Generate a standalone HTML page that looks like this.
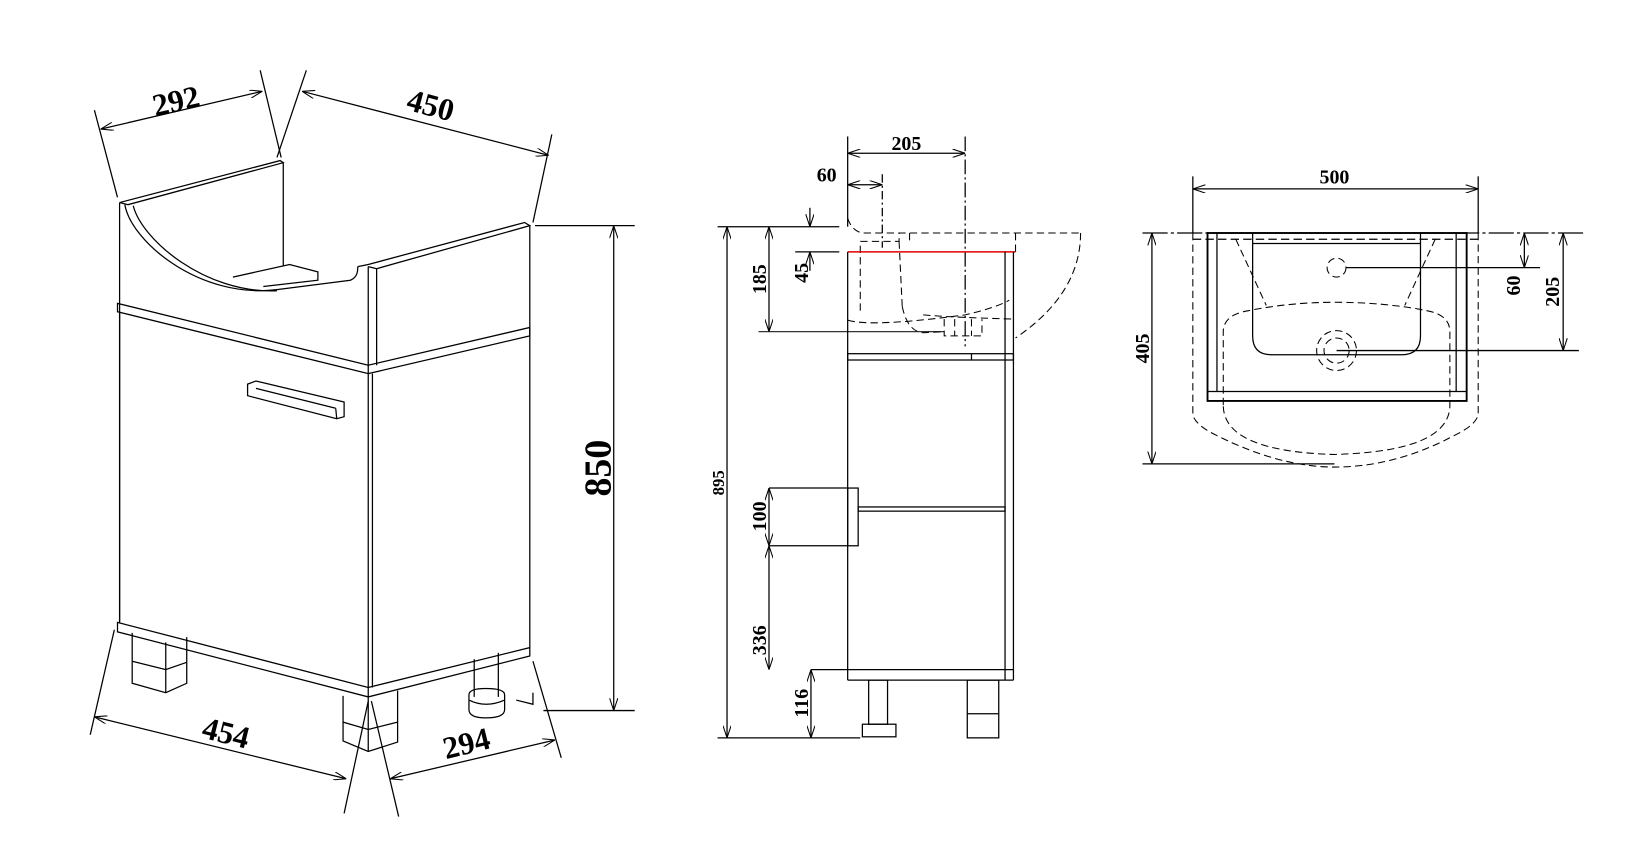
<!DOCTYPE html>
<html><head><meta charset="utf-8"><style>
html,body{margin:0;padding:0;background:#fff;}
svg{display:block}
text{font-family:"Liberation Serif",serif;font-weight:bold;fill:#000}
</style></head><body>
<svg width="1645" height="868" viewBox="0 0 1568 827" preserveAspectRatio="none" xmlns="http://www.w3.org/2000/svg">
<defs>
<marker id="a" viewBox="0 0 12 8" refX="12" refY="4" markerWidth="12" markerHeight="8" markerUnits="userSpaceOnUse" orient="auto-start-reverse">
<path d="M0,0 L12,4 L0,8" fill="none" stroke="#000" stroke-width="1"/>
</marker>
</defs>
<g fill="none" stroke="#000" stroke-width="1.2">
<line x1="96" y1="123" x2="250" y2="87" marker-start="url(#a)" marker-end="url(#a)"/>
<line x1="90" y1="105" x2="112" y2="188"/>
<line x1="248" y1="67" x2="268" y2="150"/>
<line x1="288" y1="87" x2="523" y2="148" marker-start="url(#a)" marker-end="url(#a)"/>
<line x1="292" y1="67" x2="264" y2="150"/>
<line x1="526" y1="128" x2="508" y2="212"/>
<polyline points="114,193 267,153 270,155 122,195 114,193"/>
<line x1="114" y1="193" x2="114" y2="592"/>
<line x1="270" y1="155" x2="270" y2="253"/>
<path d="M119,195 C125,230 190,285 264,276 L334,267 C341,264 341,258 341,254"/>
<path d="M127,196 C135,228 195,280 264,277"/>
<polyline points="222,264 276,252 303,259 303,267 251,273"/>
<polyline points="341,254 351,252 500,212 505,215 359,256 351,254"/>
<line x1="351" y1="254" x2="351" y2="664"/>
<line x1="359" y1="256" x2="359" y2="348"/>
<line x1="505" y1="215" x2="505" y2="617"/>
<polygon points="112,289 351,348 505,312 505,320 351,356 112,297"/>
<line x1="114" y1="297" x2="114" y2="593"/>
<line x1="355" y1="356" x2="355" y2="655"/>
<polygon points="236,366 244,363 328,383 328,397 321,399 236,377"/>
<line x1="244" y1="370" x2="320" y2="389"/>
<line x1="320" y1="389" x2="321" y2="399"/>
<polygon points="112,593 351,655 505,617 505,625 351,664 112,602"/>
<polyline points="126,603 126,651 158,660 178,651 178,607"/>
<line x1="158" y1="612" x2="158" y2="660"/>
<polyline points="126,630 158,638 178,631"/>
<polyline points="327,663 327,706 351,716 379,707 379,658"/>
<line x1="351" y1="664" x2="351" y2="716"/>
<polyline points="327,688 351,695 379,688"/>
<line x1="452" y1="628" x2="452" y2="664"/>
<line x1="475" y1="622" x2="475" y2="664"/>
<path d="M447,662 Q447,656 463,656 Q481,656 481,662 L481,676 Q481,684 463,684 Q447,684 447,676 Z"/>
<path d="M447,667 Q463,675 481,667"/>
<line x1="90" y1="683" x2="330" y2="742" marker-start="url(#a)" marker-end="url(#a)"/>
<line x1="109" y1="600" x2="86" y2="700"/>
<line x1="351" y1="668" x2="328" y2="775"/>
<line x1="372" y1="742" x2="529" y2="705" marker-start="url(#a)" marker-end="url(#a)"/>
<line x1="354" y1="668" x2="380" y2="778"/>
<line x1="508" y1="630" x2="535" y2="722"/>
<line x1="510" y1="215" x2="605" y2="215"/>
<line x1="518" y1="677" x2="605" y2="677"/>
<line x1="585" y1="215" x2="585" y2="677" marker-start="url(#a)" marker-end="url(#a)"/>
<polyline points="492,667 508,671 508,660"/>

<line x1="808" y1="130" x2="808" y2="216"/>
<line x1="808" y1="146" x2="920" y2="146" marker-start="url(#a)" marker-end="url(#a)"/>
<line x1="920" y1="130" x2="920" y2="330" stroke-dasharray="14,3,2,3"/>
<line x1="808" y1="176" x2="841" y2="176" marker-start="url(#a)" marker-end="url(#a)"/>
<line x1="841" y1="166" x2="841" y2="236" stroke-dasharray="8,3,2,3"/>
<line x1="684" y1="216" x2="800" y2="216"/>
<line x1="758" y1="240" x2="800" y2="240"/>
<line x1="772" y1="198" x2="772" y2="216" marker-end="url(#a)"/>
<line x1="772" y1="258" x2="772" y2="240" marker-end="url(#a)"/>
<line x1="723" y1="316" x2="900" y2="316" stroke="#333"/>
<line x1="733" y1="216" x2="733" y2="316" marker-start="url(#a)" marker-end="url(#a)"/>
<line x1="693" y1="216" x2="693" y2="703" marker-start="url(#a)" marker-end="url(#a)"/>
<line x1="733" y1="465" x2="808" y2="465"/>
<line x1="733" y1="520" x2="808" y2="520"/>
<line x1="733" y1="465" x2="733" y2="520" marker-start="url(#a)" marker-end="url(#a)"/>
<line x1="733" y1="520" x2="733" y2="638" marker-start="url(#a)" marker-end="url(#a)"/>
<line x1="773" y1="638" x2="808" y2="638"/>
<line x1="773" y1="638" x2="773" y2="703" marker-start="url(#a)" marker-end="url(#a)"/>
<line x1="684" y1="703" x2="820" y2="703"/>
<g stroke-dasharray="7,4" stroke-width="1">
<path d="M808,208 Q812,220 822,222 L1030,222"/>
<polyline points="820,296 820,230 857,230 857,222"/>
<line x1="867" y1="222" x2="867" y2="230"/>
<line x1="857" y1="230" x2="860" y2="292"/>
<path d="M808,305 Q830,312 920,300 Q950,293 962,286"/>
<path d="M860,292 Q865,316 880,317 L900,316"/>
<path d="M880,300 Q900,302 965,304"/>
<polyline points="900,304 900,320 936,320 936,304"/>
<line x1="910" y1="304" x2="910" y2="320"/>
<line x1="926" y1="304" x2="926" y2="320"/>
<path d="M1030,222 Q1030,280 968,322"/>
<line x1="968" y1="222" x2="968" y2="240"/>
</g>
<line x1="808" y1="240" x2="968" y2="240" stroke="#e00000" stroke-width="1.5"/>
<line x1="808" y1="240" x2="808" y2="648"/>
<line x1="958" y1="240" x2="958" y2="648"/>
<line x1="966" y1="240" x2="966" y2="648"/>
<rect x="808" y="337" width="158" height="6"/>
<line x1="926" y1="337" x2="926" y2="343"/>
<line x1="808" y1="638" x2="966" y2="638"/>
<line x1="808" y1="648" x2="966" y2="648"/>
<rect x="818" y="483" width="140" height="4"/>
<rect x="808" y="465" width="10" height="55"/>
<rect x="828" y="648" width="18" height="42"/>
<rect x="822" y="690" width="32" height="12"/>
<rect x="922" y="648" width="30" height="55"/>
<line x1="922" y1="680" x2="952" y2="680"/>

<line x1="1137" y1="168" x2="1137" y2="222"/>
<line x1="1409" y1="168" x2="1409" y2="222"/>
<line x1="1137" y1="180" x2="1409" y2="180" marker-start="url(#a)" marker-end="url(#a)"/>
<line x1="1089" y1="222" x2="1510" y2="222" stroke-dasharray="24,3,3,3"/>
<line x1="1089" y1="442" x2="1272" y2="442"/>
<line x1="1098" y1="222" x2="1098" y2="442" marker-start="url(#a)" marker-end="url(#a)"/>
<rect x="1151" y="222" width="247" height="160" stroke-width="1.8"/>
<line x1="1160" y1="222" x2="1160" y2="373"/>
<line x1="1388" y1="222" x2="1388" y2="373"/>
<line x1="1151" y1="373" x2="1398" y2="373"/>
<line x1="1137" y1="228" x2="1409" y2="228" stroke-dasharray="8,4"/>
<path d="M1194,222 L1194,320 Q1194,338 1212,338 L1336,338 Q1354,338 1354,320 L1354,222"/>
<line x1="1194" y1="232" x2="1354" y2="232"/>
<g stroke-dasharray="7,4" stroke-width="1">
<path d="M1137,222 L1137,395 Q1139,405 1160,415 Q1220,445 1272,445 Q1330,445 1386,415 Q1407,405 1409,395 L1409,222"/>
<path d="M1166,386 L1166,316 Q1166,300 1190,296 Q1230,288 1272,288 Q1320,288 1360,296 Q1382,300 1382,316 L1382,386 Q1382,430 1272,433 Q1166,430 1166,386 Z"/>
<line x1="1178" y1="228" x2="1207" y2="291"/>
<line x1="1368" y1="228" x2="1339" y2="291"/>
<circle cx="1274" cy="255" r="9"/>
<circle cx="1274" cy="334" r="19"/>
<circle cx="1274" cy="334" r="12"/>
</g>
<line x1="1283" y1="255" x2="1468" y2="255"/>
<line x1="1274" y1="334" x2="1505" y2="334"/>
<line x1="1453" y1="222" x2="1453" y2="255" marker-start="url(#a)" marker-end="url(#a)"/>
<line x1="1490" y1="222" x2="1490" y2="334" marker-start="url(#a)" marker-end="url(#a)"/>
</g>
<g font-size="30">
<text x="170" y="106" text-anchor="middle" transform="rotate(-13 170 106)">292</text>
<text x="408" y="110" text-anchor="middle" transform="rotate(15 408 110)">450</text>
<text x="213" y="708" text-anchor="middle" transform="rotate(14 213 708)">454</text>
<text x="447" y="718" text-anchor="middle" transform="rotate(-14 447 718)">294</text>
<text x="582" y="446" text-anchor="middle" font-size="36" transform="rotate(-90 582 446)">850</text>
</g>
<g font-size="19">
<text x="864" y="143" text-anchor="middle">205</text>
<text x="788" y="173" text-anchor="middle">60</text>
<text x="1272" y="175" text-anchor="middle">500</text>
<text x="730" y="266" text-anchor="middle" transform="rotate(-90 730 266)">185</text>
<text x="770" y="260" text-anchor="middle" transform="rotate(-90 770 260)">45</text>
<text x="690" y="460" text-anchor="middle" font-size="16" transform="rotate(-90 690 460)">895</text>
<text x="730" y="492" text-anchor="middle" transform="rotate(-90 730 492)">100</text>
<text x="730" y="610" text-anchor="middle" transform="rotate(-90 730 610)">336</text>
<text x="770" y="670" text-anchor="middle" transform="rotate(-90 770 670)">116</text>
<text x="1095" y="332" text-anchor="middle" transform="rotate(-90 1095 332)">405</text>
<text x="1449" y="272" text-anchor="middle" transform="rotate(-90 1449 272)">60</text>
<text x="1486" y="278" text-anchor="middle" transform="rotate(-90 1486 278)">205</text>
</g>
</svg>
</body></html>
